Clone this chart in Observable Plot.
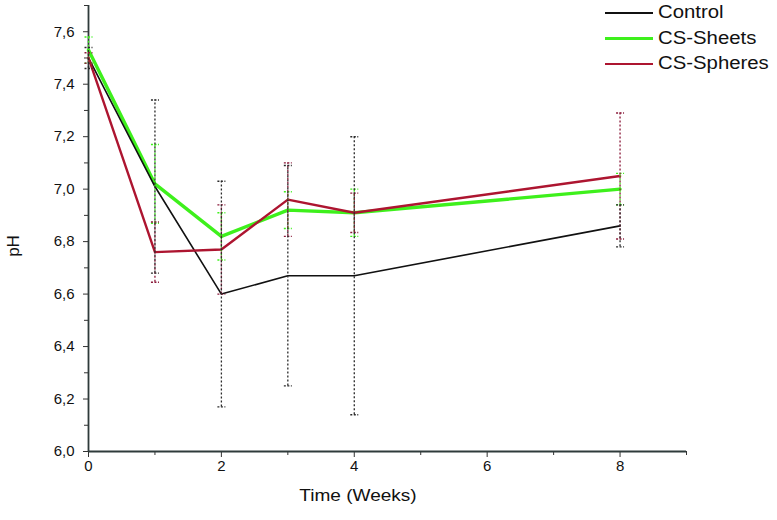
<!DOCTYPE html>
<html>
<head>
<meta charset="utf-8">
<script src="https://cdn.jsdelivr.net/npm/d3@7"></script>
<script src="https://cdn.jsdelivr.net/npm/@observablehq/plot@0.6"></script>
<style>
  body { margin: 0; background: #fff; }
  #wrap { position: relative; width: 777px; height: 520px; font-family: "Liberation Sans", Arial, sans-serif; color: #111; }
  #legend { position: absolute; left: 605px; top: 0px; font-size: 18px; }
  #legend .row { display: flex; align-items: center; height: 25.5px; }
  #legend .sw { width: 48px; margin-right: 5px; }
  #legend .lab { display: inline-block; transform: scaleX(1.13); transform-origin: left center; white-space: nowrap; }
  #xtitle { position: absolute; left: 358px; top: 496px; transform: translate(-50%, -50%) scaleX(1.12); font-size: 17px; white-space: nowrap; }
  #ytitle { position: absolute; left: 14px; top: 246px; transform: translate(-50%, -50%) rotate(-90deg); font-size: 17px; white-space: nowrap; }
</style>
</head>
<body>
<div id="wrap"><div id="legend"></div><div id="xtitle"></div><div id="ytitle"></div></div>
<script>
const weeks = [0, 1, 2, 3, 4, 8];
const seriesNames = ["Control", "CS-Sheets", "CS-Spheres"];
const control = [7.50, 7.01, 6.60, 6.67, 6.67, 6.86];
const sheets = [7.53, 7.02, 6.82, 6.92, 6.91, 7.00];
const spheres = [7.50, 6.76, 6.77, 6.96, 6.91, 7.05];
const controlErr = [0.04, 0.33, 0.43, 0.42, 0.53, 0.08];
const sheetsErr = [0.05, 0.15, 0.09, 0.07, 0.09, 0.06];
const spheresErr = [0.02, 0.115, 0.17, 0.14, 0.075, 0.24];
const xTitle = "Time (Weeks)";
const yTitle = "pH";
const lineColors = ["#111111", "#3ef01c", "#ad1530"];
const barColors = ["#2a2a2a", "#3ef01c", "#8a1a3a"];
const lineWidths = [1.6, 3.4, 2.4];
const xMajorTicks = [0, 2, 4, 6, 8];
const xMinorTicks = [1, 3, 5, 7, 9];
const yMajorTicks = [6.0, 6.2, 6.4, 6.6, 6.8, 7.0, 7.2, 7.4, 7.6];
const yMinorTicks = [6.1, 6.3, 6.5, 6.7, 6.9, 7.1, 7.3, 7.5, 7.7];

const values = [control, sheets, spheres];
const errs = [controlErr, sheetsErr, spheresErr];
const rows = [];
seriesNames.forEach((s, i) => weeks.forEach((w, j) => rows.push({series: s, idx: i, week: w, ph: values[i][j], err: errs[i][j]})));
const caps = rows.flatMap(d => [{...d, cy: d.ph - d.err}, {...d, cy: d.ph + d.err}]);

const capSymbol = {draw(ctx, size) { const w = Math.sqrt(size) / 2; ctx.moveTo(-w, 0); ctx.lineTo(w, 0); }};
const fmt = d => d.toFixed(1).replace(".", ",");

const marks = [
  Plot.axisY({ticks: yMajorTicks, tickFormat: fmt, tickSize: 5, tickPadding: 9, fontSize: 15, label: null, stroke: "#333"}),
  Plot.axisY({ticks: yMinorTicks, tickFormat: () => "", tickSize: 4, label: null, stroke: "#333"}),
  Plot.axisX({ticks: xMajorTicks, tickSize: 6, tickPadding: 3, fontSize: 15, label: null, stroke: "#333"}),
  Plot.axisX({ticks: xMinorTicks, tickFormat: () => "", tickSize: 4, label: null, stroke: "#333"}),
  Plot.ruleX([0], {stroke: "#2f3b3b", strokeWidth: 1.8}),
  Plot.ruleY([6.0], {stroke: "#2f3b3b", strokeWidth: 1.8})
];
[1, 0, 2].forEach(i => {
  marks.push(Plot.line(rows.filter(d => d.idx === i), {x: "week", y: "ph", stroke: lineColors[i], strokeWidth: lineWidths[i]}));
});
[1, 2, 0].forEach(i => {
  marks.push(Plot.ruleX(rows.filter(d => d.idx === i), {x: "week", y1: d => d.ph - d.err, y2: d => d.ph + d.err, stroke: barColors[i], strokeWidth: 1.3, strokeDasharray: "2,2"}));
  marks.push(Plot.dot(caps.filter(d => d.idx === i), {x: "week", y: "cy", symbol: capSymbol, r: 4.5, stroke: barColors[i], fill: "none", strokeWidth: 1.4, strokeDasharray: "2,1.5"}));
});

const chart = Plot.plot({
  width: 777,
  height: 520,
  marginLeft: 88,
  marginRight: 91,
  marginTop: 5,
  marginBottom: 69,
  style: {fontFamily: "'Liberation Sans', Arial, sans-serif", fontSize: "15px", color: "#111", background: "#fff"},
  x: {domain: [0, 9], label: null},
  y: {domain: [6.0, 7.7], label: null},
  marks
});
chart.style.position = "absolute";
chart.style.left = "0";
chart.style.top = "0";
const wrap = document.getElementById("wrap");
wrap.insertBefore(chart, wrap.firstChild);
document.getElementById("xtitle").textContent = xTitle;
document.getElementById("ytitle").textContent = yTitle;

const legend = document.getElementById("legend");
seriesNames.forEach((s, i) => {
  const row = document.createElement("div");
  row.className = "row";
  const sw = document.createElement("div");
  sw.className = "sw";
  sw.style.borderTop = `${Math.max(2, Math.round(lineWidths[i] * 0.8))}px solid ${lineColors[i]}`;
  const lab = document.createElement("span");
  lab.className = "lab";
  lab.textContent = s;
  row.appendChild(sw);
  row.appendChild(lab);
  legend.appendChild(row);
});
</script>
</body>
</html>
